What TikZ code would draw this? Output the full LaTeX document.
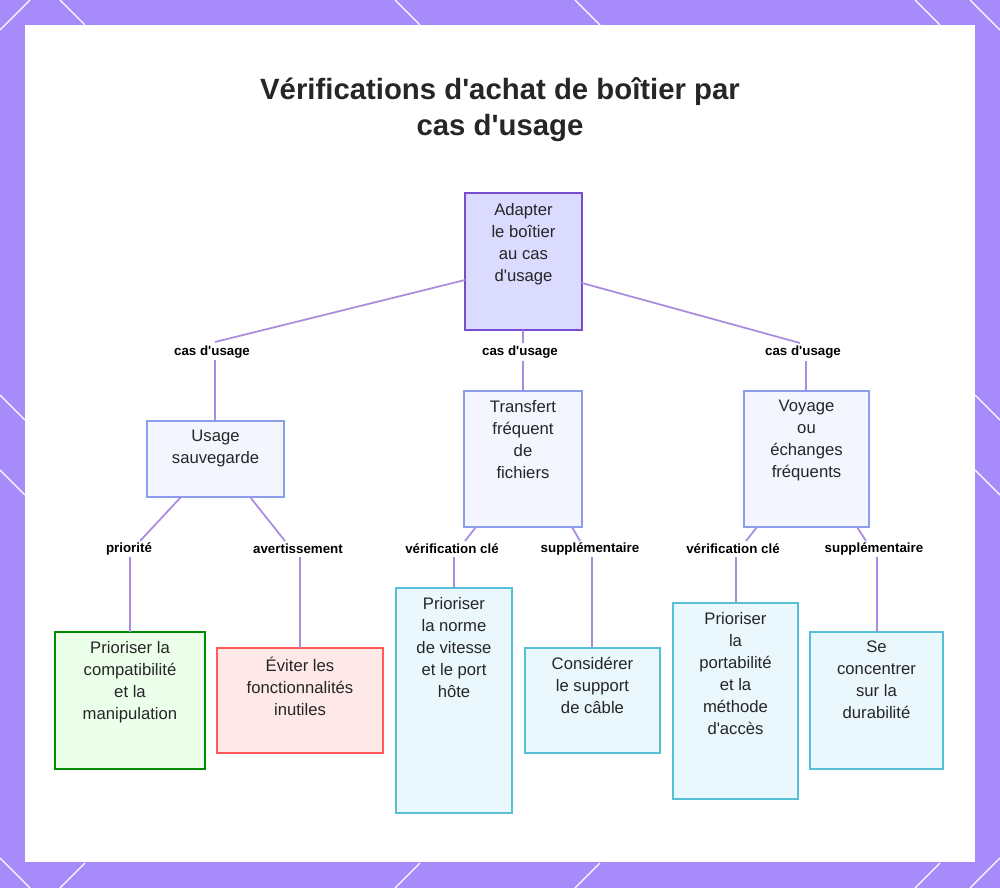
\documentclass[tikz,border=0pt]{standalone}
\usepackage{fontspec}
\setmainfont{Liberation Sans}[Ligatures=TeXOff]
\newcommand\ap{\symbol{"0027}}
\begin{document}
\begin{tikzpicture}[x=0.75pt,y=-0.75pt,
 lbl/.style={fill=white,inner sep=1pt,font=\bfseries\fontsize{10}{12}\selectfont}]
\definecolor{bord}{HTML}{A78BFA}
\definecolor{edgec}{HTML}{A98BE0}
\definecolor{cyb}{HTML}{56C1D6}
\definecolor{cyf}{HTML}{EAF8FD}
\definecolor{blb}{HTML}{8C9EEB}
\definecolor{blf}{HTML}{F4F6FF}
\useasboundingbox (0,0) rectangle (1000,888);
\fill[bord] (0,0) rectangle (1000,888);
\foreach \a/\b/\c/\d in {0/30/30/0, 970/0/1000/30, 0/858/30/888, 970/888/1000/858, 60/0/85/25, 915/0/940/25, 395/0/420/25, 575/0/600/25, 0/395/25/420, 0/470/25/495, 975/395/1000/420, 975/470/1000/495, 60/888/85/863, 915/888/940/863, 395/888/420/863, 575/888/600/863}
  \draw[white,line width=1pt] (\a,\b)--(\c,\d);
\fill[white] (25,25) rectangle (975,862);
\node[font=\bfseries\fontsize{22}{27}\selectfont,align=center,text=black!85] (title) at (500,110) {Vérifications d\ap achat de boîtier par\\cas d\ap usage};
\tikzset{edge/.style={draw=edgec,line width=1.3pt}}
\path[draw=blue!50!violet!70,fill=blue!14,line width=1.2pt] (465,193) rectangle (582,330);
\node[align=center,font=\fontsize{12.5}{16.5}\selectfont,text=black!85] (root) at (523.5,244) {Adapter\\le boîtier\\au cas\\d\ap usage};
\coordinate (rl) at (465,280); \coordinate (rb) at (523,330); \coordinate (rr) at (582,283);
\foreach \n/\x/\y/\X/\Y/\f/\d/\t in {
 us/147/421/284/497/blf/blb/{Usage\\sauvegarde},
 tf/464/391/582/527/blf/blb/{Transfert\\fréquent\\de\\fichiers},
 vo/744/391/869/527/blf/blb/{Voyage\\ou\\échanges\\fréquents},
 pc/55/632/205/769/green!8/green!55!black/{Prioriser la\\compatibilité\\et la\\manipulation},
 ev/217/648/383/753/red!9/red!65/{Éviter les\\fonctionnalités\\inutiles},
 pn/396/588/512/813/cyf/cyb/{Prioriser\\la norme\\de vitesse\\et le port\\hôte},
 cs/525/648/660/753/cyf/cyb/{Considérer\\le support\\de câble},
 pp/673/603/798/799/cyf/cyb/{Prioriser\\la\\portabilité\\et la\\méthode\\d\ap accès},
 sc/810/632/943/769/cyf/cyb/{Se\\concentrer\\sur la\\durabilité}}
{
 \path[draw=\d,fill=\f,line width=1.2pt] (\x,\y) rectangle (\X,\Y);
 \node[anchor=north,align=center,font=\fontsize{12.5}{16.5}\selectfont,text=black!85,inner sep=0pt] (\n) at ({(\x+\X)/2},\y+9) {\t};
}
\node[lbl] (l1) at (212,352) {cas d\ap usage};
\node[lbl] (l2) at (520,352) {cas d\ap usage};
\node[lbl] (l3) at (803,352) {cas d\ap usage};
\node[lbl] (l4) at (129,549) {priorité};
\node[lbl] (l5) at (298,549) {avertissement};
\node[lbl] (l6) at (452,549) {vérification clé};
\node[lbl] (l7) at (590,549) {supplémentaire};
\node[lbl] (l8) at (733,549) {vérification clé};
\node[lbl] (l9) at (874,549) {supplémentaire};
\draw[edge] (rl) -- (215,342); \draw[edge] (215,360) -- (215,421);
\draw[edge] (rb) -- (523,343); \draw[edge] (523,361) -- (523,391);
\draw[edge] (rr) -- (800,343); \draw[edge] (806,361) -- (806,391);
\draw[edge] (181,497) -- (140,541); \draw[edge] (130,557) -- (130,632);
\draw[edge] (250,497) -- (285,541); \draw[edge] (300,557) -- (300,648);
\draw[edge] (476,527) -- (465,541); \draw[edge] (454,557) -- (454,588);
\draw[edge] (572,527) -- (580,541); \draw[edge] (592,557) -- (592,648);
\draw[edge] (757,527) -- (746,541); \draw[edge] (736,557) -- (736,603);
\draw[edge] (857,527) -- (866,541); \draw[edge] (877,557) -- (877,632);
\end{tikzpicture}
\end{document}
